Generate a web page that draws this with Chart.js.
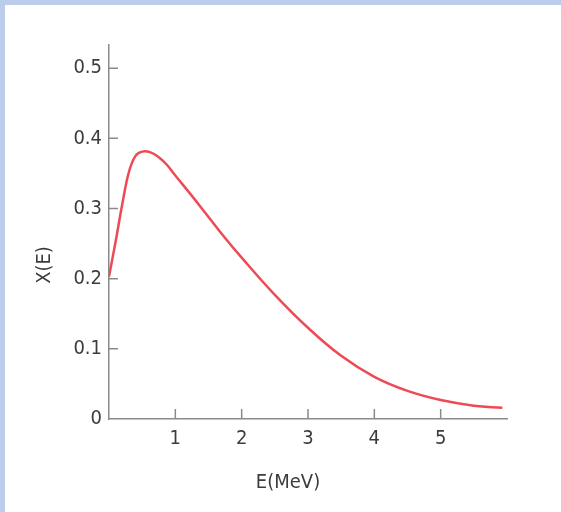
<!DOCTYPE html>
<html>
<head>
<meta charset="utf-8">
<script src="https://cdn.jsdelivr.net/npm/chart.js@4.4.1/dist/chart.umd.min.js"></script>
<style>
    html, body { margin: 0; padding: 0; background: #fff; }
    #frame {
        position: absolute; left: 0; top: 0; width: 556px; height: 507px;
        border-left: 5px solid #bccdeb; border-top: 5px solid #bccdeb;
    }
    #wrap { position: absolute; left: 0; top: 0; width: 561px; height: 512px; }
</style>
</head>
<body>
<div id="frame"></div>
<div id="wrap"><canvas id="spectrumChart"></canvas></div>
<script>
// Fission spectrum
const energies = [0, 0.1, 0.2, 0.3, 0.4, 0.5, 0.625, 0.75, 0.875, 1.0, 1.25, 1.5, 1.75, 2.0, 2.5, 3.0, 3.5, 4.0, 4.5, 5.0, 5.5, 5.93];
const values   = [0.203, 0.253, 0.306, 0.352, 0.375, 0.381, 0.380, 0.373, 0.362, 0.347, 0.318, 0.288, 0.258, 0.230, 0.177, 0.130, 0.090, 0.060, 0.040, 0.027, 0.019, 0.016];
const xTicks = [1, 2, 3, 4, 5];
const yTicks = [0, 0.1, 0.2, 0.3, 0.4, 0.5];
const xTitle = 'E(MeV)';
const yTitle = 'X(E)';

const font = "'DejaVu Sans Condensed', 'Liberation Sans Narrow', 'Arial Narrow', sans-serif";
const axisColor = '#8a8a8a';
const textColor = '#3c3c3c';

// ticks point into the plot, titles drawn by hand
const innerTicks = {
    id: 'innerTicks',
    afterDraw(chart) {
        const ctx = chart.ctx;
        const x = chart.scales.x, y = chart.scales.y;
        ctx.save();
        ctx.strokeStyle = axisColor;
        ctx.lineWidth = 1.5;
        ctx.beginPath();
        xTicks.forEach(v => {
            const px = x.getPixelForValue(v);
            ctx.moveTo(px, y.bottom);
            ctx.lineTo(px, y.bottom - 10);
        });
        yTicks.forEach(v => {
            if (v === 0) return;
            const py = y.getPixelForValue(v);
            ctx.moveTo(x.left, py);
            ctx.lineTo(x.left + 9, py);
        });
        ctx.stroke();

        ctx.fillStyle = textColor;
        ctx.font = '20px ' + font;
        ctx.textAlign = 'center';
        ctx.textBaseline = 'middle';
        ctx.fillText(xTitle, 288, 483);
        ctx.translate(45, 265);
        ctx.rotate(-Math.PI / 2);
        ctx.fillText(yTitle, 0, 0);
        ctx.restore();
    }
};

new Chart(document.getElementById('spectrumChart'), {
    type: 'line',
    data: {
        datasets: [{
            data: energies.map((e, i) => ({ x: e, y: values[i] })),
            borderColor: '#ee4a55',
            borderWidth: 2.5,
            pointRadius: 0,
            tension: 0.4,
            fill: false
        }]
    },
    options: {
        responsive: true,
        maintainAspectRatio: false,
        animation: false,
        layout: { padding: { top: 45, right: 54, left: 0, bottom: 0 } },
        plugins: { legend: { display: false }, tooltip: { enabled: false } },
        scales: {
            x: {
                type: 'linear',
                min: 0,
                max: 6,
                afterFit(scale) { scale.height = 93; },
                afterBuildTicks(scale) { scale.ticks = xTicks.map(v => ({ value: v })); },
                grid: { display: false, drawTicks: false },
                border: { display: true, color: axisColor, width: 1.5 },
                ticks: {
                    padding: 8,
                    color: textColor,
                    font: { family: font, size: 20 },
                    callback: v => String(v)
                }
            },
            y: {
                min: 0,
                max: 0.533,
                afterFit(scale) { scale.width = 109; },
                afterBuildTicks(scale) { scale.ticks = yTicks.map(v => ({ value: v })); },
                grid: { display: false, drawTicks: false },
                border: { display: true, color: axisColor, width: 1.5 },
                ticks: {
                    padding: 7,
                    color: textColor,
                    font: { family: font, size: 20 },
                    callback: v => (v === 0 ? '0' : v.toFixed(1))
                }
            }
        }
    },
    plugins: [innerTicks]
});
</script>
</body>
</html>
